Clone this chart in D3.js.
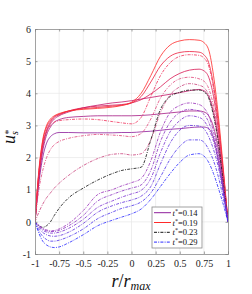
<!DOCTYPE html>
<html>
<head>
<meta charset="utf-8">
<script src="https://cdn.jsdelivr.net/npm/d3@7"></script>
<style>
  body { margin: 0; background: #fff; }
  text { font-family: "Liberation Serif", "DejaVu Serif", serif; }
</style>
</head>
<body>
<script>
'use strict';
// radial positions shared by every profile
const rPos = [-1, -0.96, -0.92, -0.88, -0.84, -0.8, -0.75, -0.65, -0.5, -0.35, -0.2, -0.1, 0,
              0.1, 0.2, 0.3, 0.4, 0.5, 0.6, 0.7, 0.75, 0.8, 0.85, 0.9, 0.95, 1];

// acceleration (solid) t* = 0.14 .. 0.19
const u014 = [0, 1.2, 2.0, 2.45, 2.65, 2.74, 2.78, 2.78, 2.77, 2.77, 2.77, 2.78, 2.78, 2.8, 2.82, 2.85, 2.88, 2.9, 2.93, 2.95, 2.95, 2.9, 2.6, 1.9, 1.0, 0];
const u015 = [0, 1.3, 2.2, 2.7, 2.95, 3.1, 3.18, 3.25, 3.28, 3.3, 3.3, 3.3, 3.3, 3.31, 3.33, 3.36, 3.39, 3.42, 3.45, 3.45, 3.42, 3.3, 2.95, 2.25, 1.2, 0];
const u016 = [0, 1.4, 2.3, 2.8, 3.05, 3.2, 3.3, 3.42, 3.55, 3.63, 3.7, 3.73, 3.77, 3.82, 3.87, 3.92, 3.97, 4.02, 4.08, 4.12, 4.08, 3.9, 3.4, 2.55, 1.35, 0];
const u017 = [0, 1.5, 2.4, 2.85, 3.1, 3.25, 3.33, 3.45, 3.55, 3.6, 3.63, 3.65, 3.7, 3.8, 3.98, 4.2, 4.45, 4.62, 4.72, 4.75, 4.7, 4.5, 3.9, 2.85, 1.5, 0];
const u018 = [0, 1.55, 2.5, 2.95, 3.15, 3.28, 3.35, 3.45, 3.52, 3.56, 3.6, 3.63, 3.7, 3.9, 4.35, 4.85, 5.15, 5.27, 5.3, 5.28, 5.2, 4.95, 4.25, 3.1, 1.6, 0];
const u019 = [0, 1.6, 2.55, 3.0, 3.2, 3.3, 3.37, 3.45, 3.5, 3.53, 3.57, 3.62, 3.72, 4.0, 4.55, 5.15, 5.5, 5.63, 5.67, 5.65, 5.58, 5.35, 4.55, 3.3, 1.7, 0];
// deceleration (dash-dot) t* = 0.20 .. 0.29
const u020 = [0, 1.5, 2.4, 2.8, 3.0, 3.1, 3.15, 3.18, 3.2, 3.18, 3.12, 3.08, 3.05, 3.25, 3.9, 4.55, 4.95, 5.15, 5.2, 5.18, 5.1, 4.85, 4.15, 3.0, 1.55, 0];
const u021 = [0, 1.0, 1.6, 2.0, 2.25, 2.4, 2.5, 2.6, 2.68, 2.72, 2.7, 2.68, 2.65, 2.75, 3.2, 3.85, 4.25, 4.45, 4.5, 4.45, 4.38, 4.15, 3.6, 2.7, 1.4, 0];
const u022 = [0, 0.3, 0.55, 0.75, 0.9, 1.05, 1.2, 1.45, 1.75, 1.97, 2.1, 2.12, 2.08, 2.12, 2.55, 3.4, 3.95, 4.2, 4.3, 4.25, 4.18, 3.95, 3.45, 2.6, 1.3, 0];
const u023 = [0, -0.12, -0.17, -0.12, 0.0, 0.2, 0.42, 0.75, 1.05, 1.3, 1.5, 1.6, 1.65, 1.7, 2.55, 3.5, 3.9, 4.03, 4.1, 4.1, 4.05, 3.85, 3.3, 2.45, 1.25, 0];
const u024 = [0, -0.1, -0.2, -0.25, -0.28, -0.27, -0.22, -0.05, 0.35, 0.85, 1.0, 1.12, 1.22, 1.35, 1.9, 2.8, 3.4, 3.62, 3.7, 3.65, 3.55, 3.3, 2.8, 2.1, 1.1, 0];
const u025 = [0, -0.12, -0.22, -0.28, -0.3, -0.3, -0.26, -0.12, 0.2, 0.65, 0.85, 0.96, 1.05, 1.15, 1.6, 2.5, 3.1, 3.4, 3.5, 3.45, 3.35, 3.1, 2.65, 2.0, 1.05, 0];
const u026 = [0, -0.15, -0.26, -0.32, -0.35, -0.35, -0.32, -0.2, 0.08, 0.45, 0.65, 0.77, 0.87, 0.98, 1.35, 2.15, 2.8, 3.15, 3.3, 3.25, 3.15, 2.9, 2.5, 1.85, 1.0, 0];
const u027 = [0, -0.2, -0.33, -0.4, -0.44, -0.45, -0.43, -0.32, -0.05, 0.3, 0.5, 0.6, 0.68, 0.8, 1.1, 1.8, 2.45, 2.85, 3.0, 2.98, 2.9, 2.65, 2.25, 1.7, 0.9, 0];
const u028 = [0, -0.28, -0.45, -0.55, -0.6, -0.6, -0.57, -0.46, -0.22, 0.1, 0.3, 0.42, 0.5, 0.62, 0.9, 1.4, 1.95, 2.35, 2.55, 2.55, 2.48, 2.25, 1.9, 1.4, 0.75, 0];
const u029 = [0, -0.35, -0.6, -0.72, -0.78, -0.8, -0.78, -0.65, -0.4, -0.12, 0.05, 0.15, 0.25, 0.4, 0.7, 1.1, 1.5, 1.85, 2.08, 2.12, 2.05, 1.85, 1.5, 1.05, 0.55, 0];

const tLabels = ['0.14', '0.15', '0.16', '0.17', '0.18', '0.19', '0.20', '0.21', '0.22', '0.23',
                 '0.24', '0.25', '0.26', '0.27', '0.28', '0.29'];
const profiles = [u014, u015, u016, u017, u018, u019, u020, u021, u022, u023,
                  u024, u025, u026, u027, u028, u029];
const legendT = ['0.14', '0.19', '0.23', '0.29'];

const xTicks = [-1, -0.75, -0.5, -0.25, 0, 0.25, 0.5, 0.75, 1];
const xTickText = ['-1', '-0.75', '-0.5', '-0.25', '0', '0.25', '0.5', '0.75', '1'];
const yTicks = [-1, 0, 1, 2, 3, 4, 5, 6];
const yTickText = ['-1', '0', '1', '2', '3', '4', '5', '6'];

// colour per profile
const palette = ['#8e1f9c', '#a61c86', '#c21a6c', '#d91a55', '#ec1f3f', '#ff2a2a',
                 '#f0305a', '#e0487a', '#c8407a', '#111111',
                 '#9a30b8', '#8a30c0', '#7a30d0', '#6030dc', '#4a30ea', '#2a2aff'];

(function() {
  const W = 252, H = 294;
  const mLeft = 35, mRight = 228, mTop = 29, mBottom = 254;
  const serif = '"Liberation Serif", "DejaVu Serif", serif';

  const svg = d3.select('body').append('svg')
    .attr('width', W).attr('height', H);

  const x = d3.scaleLinear().domain([-1, 1]).range([mLeft, mRight]);
  const y = d3.scaleLinear().domain([-1, 6]).range([mBottom, mTop]);

  // grid
  svg.append('g').selectAll('line').data(xTicks.slice(1, -1)).join('line')
    .attr('x1', d => x(d)).attr('x2', d => x(d)).attr('y1', mTop).attr('y2', mBottom)
    .attr('stroke', '#e6e6e6').attr('stroke-width', 0.7);
  svg.append('g').selectAll('line').data(yTicks.slice(1, -1)).join('line')
    .attr('y1', d => y(d)).attr('y2', d => y(d)).attr('x1', mLeft).attr('x2', mRight)
    .attr('stroke', '#e6e6e6').attr('stroke-width', 0.7);

  // profiles
  svg.append('clipPath').attr('id', 'clip').append('rect')
    .attr('x', mLeft).attr('y', mTop).attr('width', mRight - mLeft).attr('height', mBottom - mTop);

  const line = d3.line()
    .x((d, i) => x(rPos[i]))
    .y(d => y(d))
    .curve(d3.curveMonotoneX);

  const plot = svg.append('g').attr('clip-path', 'url(#clip)');
  profiles.forEach((u, i) => {
    plot.append('path')
      .attr('d', line(u))
      .attr('fill', 'none')
      .attr('stroke', palette[i])
      .attr('stroke-width', 0.9)
      .attr('stroke-opacity', 0.9)
      .attr('stroke-dasharray', i <= 5 ? null : '3,1.2,1,1.2');
  });

  // axes (ticks inward on all sides)
  const axB = d3.axisBottom(x).tickValues(xTicks).tickSize(-2.5).tickPadding(6)
    .tickFormat((d, i) => xTickText[i]);
  const axT = d3.axisTop(x).tickValues(xTicks).tickSize(-2.5).tickFormat('');
  const axL = d3.axisLeft(y).tickValues(yTicks).tickSize(-2.5).tickPadding(4)
    .tickFormat((d, i) => yTickText[i]);
  const axR = d3.axisRight(y).tickValues(yTicks).tickSize(-2.5).tickFormat('');

  function styleAxis(g) {
    g.attr('font-family', serif);
    g.select('.domain').attr('stroke', '#8a8a8a').attr('stroke-width', 0.8);
    g.selectAll('.tick line').attr('stroke', '#8a8a8a').attr('stroke-width', 0.8);
    g.selectAll('.tick text').attr('fill', '#222').style('font-size', '10px')
      .style('font-family', serif);
  }
  svg.append('g').attr('transform', `translate(0,${mBottom})`).call(axB).call(styleAxis);
  svg.append('g').attr('transform', `translate(0,${mTop})`).call(axT).call(styleAxis);
  svg.append('g').attr('transform', `translate(${mLeft},0)`).call(axL).call(styleAxis);
  svg.append('g').attr('transform', `translate(${mRight},0)`).call(axR).call(styleAxis);

  // axis labels
  const yl = svg.append('text')
    .attr('transform', 'translate(15,137) rotate(-90)')
    .attr('text-anchor', 'middle')
    .style('font-family', serif)
    .style('font-size', '18px').style('font-style', 'italic').attr('fill', '#111');
  yl.append('tspan').text('u');
  yl.append('tspan').attr('dy', -3).attr('dx', 0).style('font-size', '10px').text('*');
  yl.append('tspan').attr('dy', 6).attr('dx', -5).style('font-size', '10px').text('s');

  const xl = svg.append('text')
    .attr('x', 131).attr('y', 287)
    .attr('text-anchor', 'middle')
    .style('font-family', serif)
    .style('font-size', '18px').style('font-style', 'italic').attr('fill', '#111');
  xl.append('tspan').text('r');
  xl.append('tspan').style('font-style', 'normal').text('/');
  xl.append('tspan').text('r');
  xl.append('tspan').attr('dy', 3).style('font-size', '12px').text('max');

  // legend
  const lg = svg.append('g');
  lg.append('rect').attr('x', 152).attr('y', 207).attr('width', 50).attr('height', 41)
    .attr('fill', '#fff').attr('stroke', '#8a8a8a').attr('stroke-width', 0.8);
  legendT.forEach((t, k) => {
    const i = tLabels.indexOf(t);
    const ly = 212.7 + k * 9.8;
    lg.append('line').attr('x1', 154).attr('x2', 171).attr('y1', ly).attr('y2', ly)
      .attr('stroke', palette[i]).attr('stroke-width', 1)
      .attr('stroke-dasharray', i <= 5 ? null : '3,1.2,1,1.2');
    const tx = lg.append('text').attr('x', 172.5).attr('y', ly + 3)
      .style('font-family', serif)
      .style('font-size', '8.5px').attr('fill', '#111');
    tx.append('tspan').style('font-style', 'italic').text('t');
    tx.append('tspan').attr('dy', -3).style('font-size', '6px').text('*');
    tx.append('tspan').attr('dy', 3).text('=' + t);
  });
})();
</script>
</body>
</html>
